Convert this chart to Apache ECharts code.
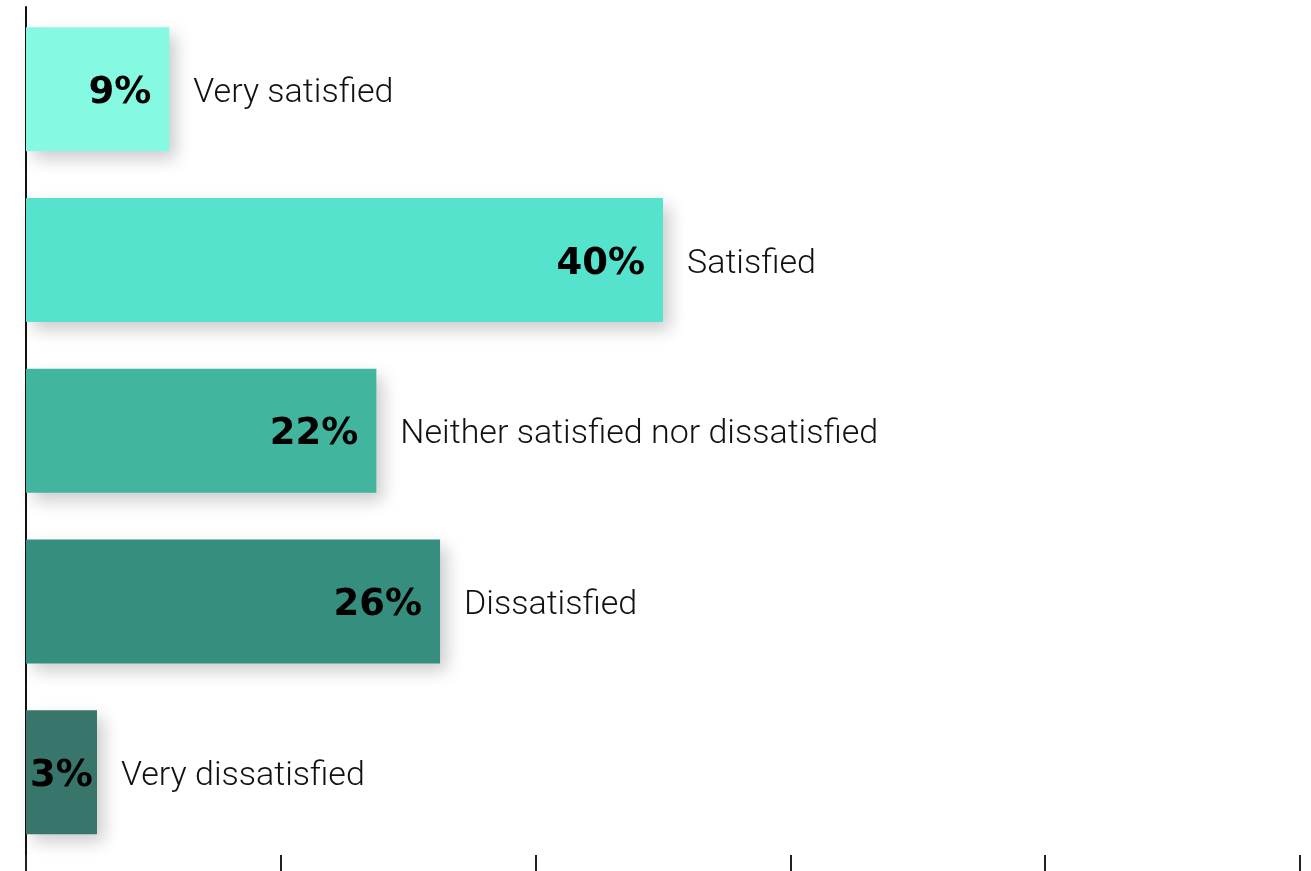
<!DOCTYPE html>
<html>
<head>
<meta charset="utf-8">
<title>Satisfaction</title>
<script src="https://cdn.jsdelivr.net/npm/echarts@6/dist/echarts.min.js"></script>
<style>
  html, body { margin: 0; padding: 0; background: #ffffff; }
  #chart { width: 1311px; height: 871px; }
</style>
</head>
<body>
<div id="chart"></div>
<script>
// Survey answers, top to bottom
const categories = [
  'Very satisfied',
  'Satisfied',
  'Neither satisfied nor dissatisfied',
  'Dissatisfied',
  'Very dissatisfied'
];
// Share of respondents (%)
const shares = [9, 40, 22, 26, 3];
// One colour per answer, light to dark
const barColors = ['#86f9e3', '#56e3ce', '#42b59f', '#368f7e', '#38756a'];
// Value axis range and tick step
const axisMax = 80;
const tickStep = 16;

const chart = echarts.init(document.getElementById('chart'), null, { renderer: 'canvas' });

const barData = shares.map((v, i) => ({
  value: v,
  itemStyle: { color: barColors[i] },
  label: v < 5 ? { position: 'inside' } : undefined
}));

chart.setOption({
  animation: false,
  backgroundColor: '#ffffff',
  grid: [
    // bars
    { left: 26, right: 11, top: 4, bottom: 13.5 },
    // frame: vertical axis line and bottom ticks
    { left: 26, right: 11, top: 7, bottom: 0 }
  ],
  xAxis: [
    { gridIndex: 0, type: 'value', min: 0, max: axisMax, interval: tickStep, show: false },
    {
      gridIndex: 1, type: 'value', min: 0, max: axisMax, interval: tickStep,
      axisLine: { show: false, onZero: false },
      axisTick: { show: true, inside: true, length: 16, lineStyle: { color: '#222', width: 2 } },
      axisLabel: { show: false },
      splitLine: { show: false }
    }
  ],
  yAxis: [
    { gridIndex: 0, type: 'category', data: categories, inverse: true, show: false },
    {
      gridIndex: 1, type: 'value', min: 0, max: 1,
      axisLine: { show: true, onZero: false, lineStyle: { color: '#111', width: 2 } },
      axisTick: { show: false },
      axisLabel: { show: false },
      splitLine: { show: false }
    }
  ],
  series: [
    {
      name: 'share',
      type: 'bar',
      xAxisIndex: 0,
      yAxisIndex: 0,
      barWidth: 124,
      barMinHeight: 71,
      data: barData,
      itemStyle: {
        shadowColor: 'rgba(0,0,0,0.2)',
        shadowBlur: 16,
        shadowOffsetX: 7,
        shadowOffsetY: 8
      },
      label: {
        show: true,
        position: 'insideRight',
        distance: 18,
        offset: [0, 4],
        formatter: '{c}%',
        color: '#000',
        fontFamily: 'DejaVu Sans',
        fontWeight: 'bold',
        fontSize: 37
      },
      z: 2
    },
    {
      name: 'answer',
      type: 'bar',
      xAxisIndex: 0,
      yAxisIndex: 0,
      barWidth: 124,
      barGap: '-100%',
      barMinHeight: 71,
      silent: true,
      data: shares,
      itemStyle: { color: 'rgba(0,0,0,0)' },
      label: {
        show: true,
        position: 'right',
        distance: 24,
        offset: [0, 4],
        formatter: '{b}',
        color: '#111',
        fontFamily: 'Roboto',
        fontWeight: 300,
        fontSize: 34
      },
      z: 3
    }
  ]
});
</script>
</body>
</html>
